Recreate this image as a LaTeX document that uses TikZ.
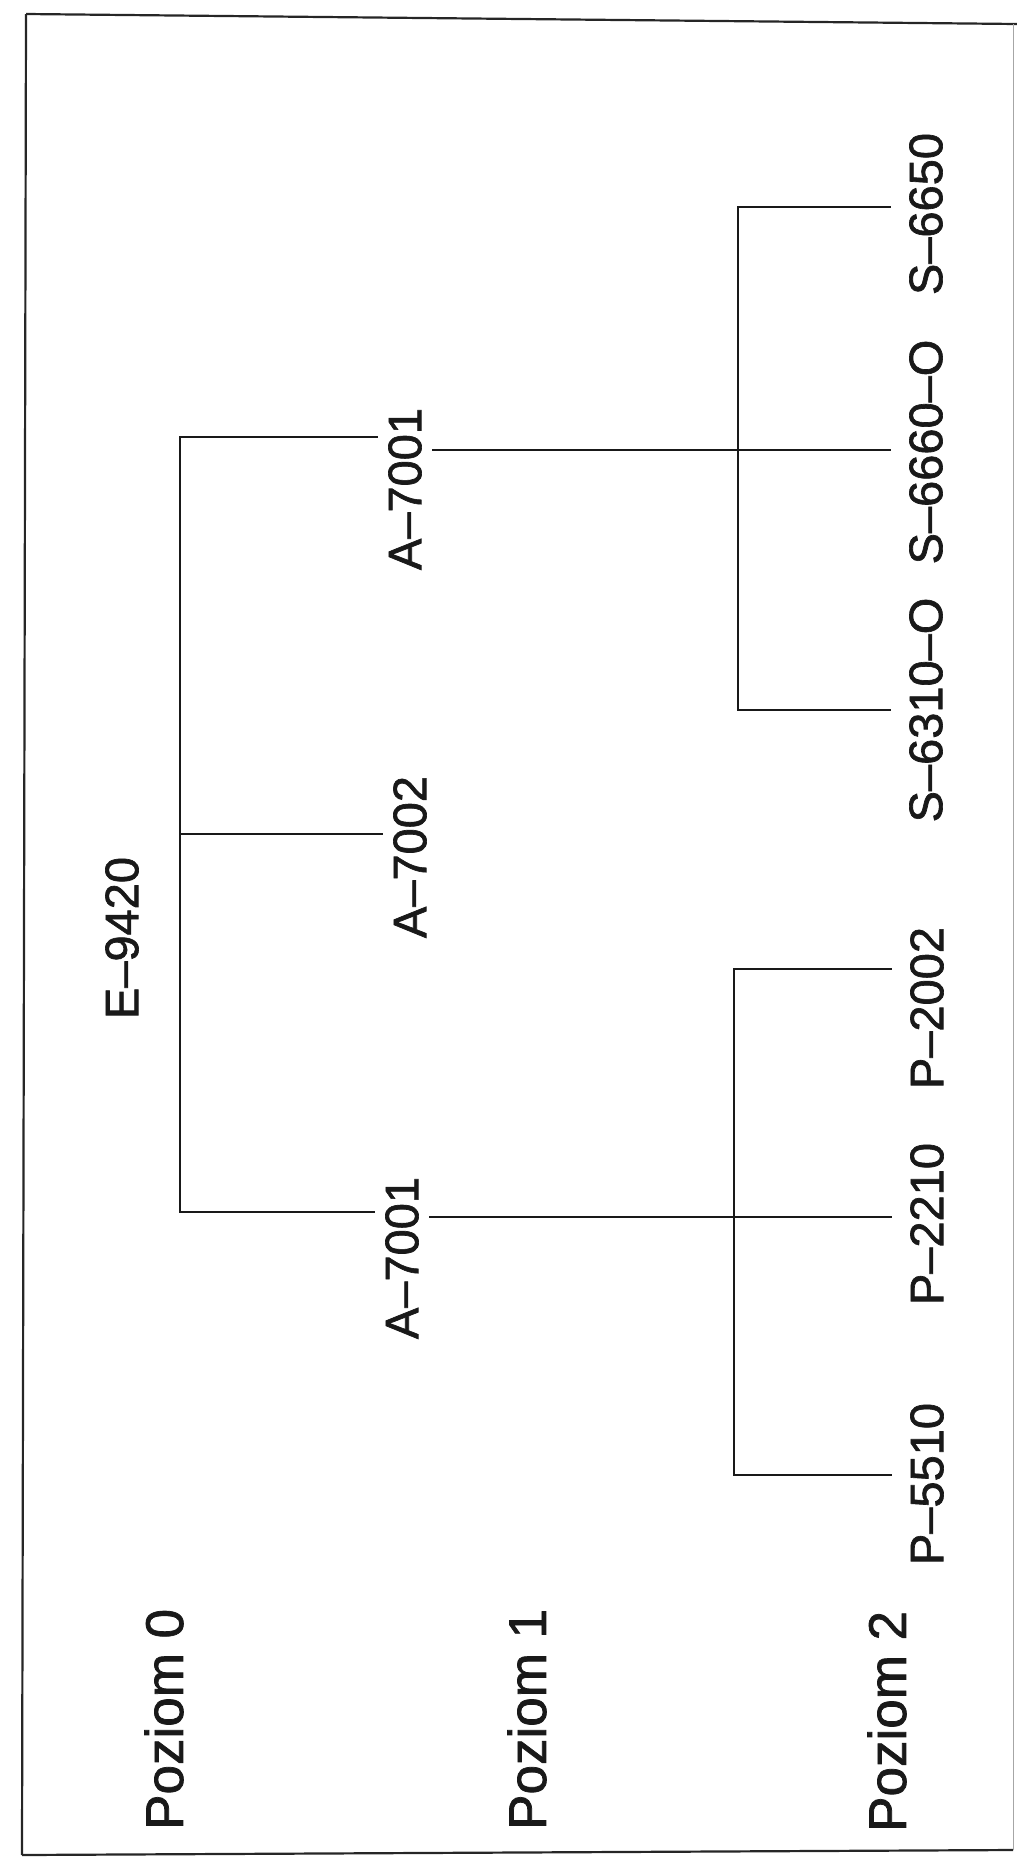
\documentclass[tikz,border=0pt]{standalone}
\usepackage{fontspec}
\setmainfont{Liberation Sans}[FakeBold=1.2]
\newfontfamily\labfont{Liberation Sans}[FakeBold=1.4]
\begin{document}
\begin{tikzpicture}[x=1pt,y=1pt,
  lbl/.style={rotate=90, inner sep=0pt, outer ysep=12pt, text=black!90,
              font=\labfont\fontsize{47}{50}\selectfont},
  leaf/.style={lbl, outer ysep=20pt},
  lvl/.style={rotate=90, inner sep=0pt, anchor=west, text=black!90,
              font=\labfont\fontsize{53}{55}\selectfont},
  conn/.style={line width=2.8pt, draw=black!90, line cap=rect},
  frame/.style={line width=2.2pt, draw=black!85}]
\useasboundingbox (0,0) rectangle (1017,-1864);
% frame
\draw[frame] (26,-14) -- (1017,-24);
\draw[frame] (26,-14) -- (22,-1855);
\draw[frame] (22,-1855) -- (1013,-1850);
\draw[line width=1pt, draw=black!35] (1013,-24) -- (1013,-1850);
% level labels
\node[lvl] (p0) at (164,-1830) {Poziom 0};
\node[lvl] (p1) at (527,-1830) {Poziom 1};
\node[lvl] (p2) at (887,-1832) {Poziom 2};
% level 0
\node[lbl] (e) at (122,-938) {E–9420};
% level 1
\node[lbl] (a1) at (405,-489) {A–7001};
\node[lbl] (a2) at (410,-857) {A–7002};
\node[lbl] (a3) at (402,-1258) {A–7001};
% level 2
\node[leaf] (s1) at (926,-214) {S–6650};
\node[leaf] (s2) at (926,-452) {S–6660–O};
\node[leaf] (s3) at (926,-710) {S–6310–O};
\node[leaf] (q1) at (927,-1008) {P–2002};
\node[leaf] (q2) at (927,-1224) {P–2210};
\node[leaf] (q3) at (927,-1484) {P–5510};
% junctions
\coordinate (t1) at (180,-437);
\coordinate (t2) at (180,-834);
\coordinate (t3) at (180,-1212);
\coordinate (u1) at (738,-207);
\coordinate (u3) at (738,-710);
\coordinate (um) at (738,-450);
\coordinate (v1) at (734,-969);
\coordinate (v3) at (734,-1475);
\coordinate (vm) at (734,-1217);
% connectors level 0 -> 1
\draw[conn] (t1) -- (t3);
\draw[conn] (t1) -- (a1.north |- t1);
\draw[conn] (t2) -- (a2.north |- t2);
\draw[conn] (t3) -- (a3.north |- t3);
% connectors level 1 -> 2 (upper)
\draw[conn] (a1.south |- um) -- (s2.north |- um);
\draw[conn] (s1.north |- u1) -- (u1) -- (u3) -- (s3.north |- u3);
% connectors level 1 -> 2 (lower)
\draw[conn] (a3.south |- vm) -- (q2.north |- vm);
\draw[conn] (q1.north |- v1) -- (v1) -- (v3) -- (q3.north |- v3);
\end{tikzpicture}
\end{document}
